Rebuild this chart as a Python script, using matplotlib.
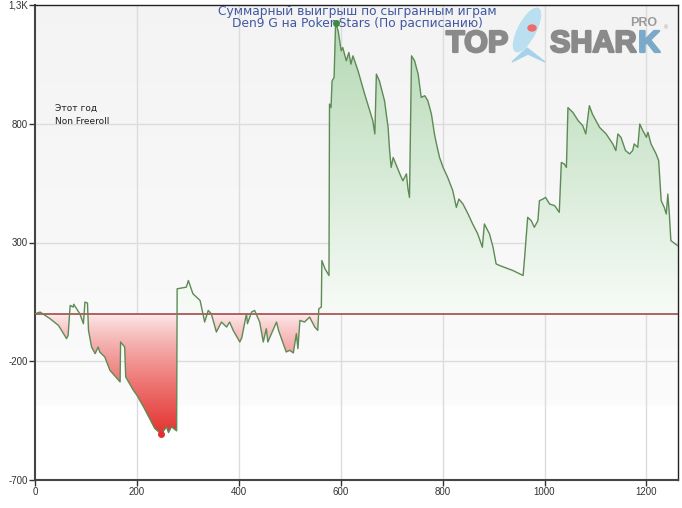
import numpy as np
import matplotlib
matplotlib.use("Agg")
import matplotlib.pyplot as plt
import matplotlib.patheffects as pe
from matplotlib.colors import to_rgb
from matplotlib.patches import Ellipse, Circle, Polygon

plt.rcParams['font.family'] = ['Liberation Sans', 'DejaVu Sans']

# ---- data: game number / cumulative winnings ----
games = [0, 10, 29, 46, 62, 65, 69, 75, 76, 88, 95, 98, 103, 105, 111, 118, 124, 127,
         137, 147, 167, 168, 176, 178, 193, 200, 213, 235, 248, 258, 262, 268, 278,
         279, 297, 301, 310, 324, 333, 340, 346, 356, 366, 376, 382, 389, 402, 406,
         415, 417, 425, 431, 441, 448, 454, 457, 474, 478, 493, 500, 507, 513, 516,
         520, 529, 539, 549, 555, 557, 562, 563, 569, 577, 578, 581, 583, 587, 590,
         595, 601, 604, 611, 616, 620, 624, 634, 647, 657, 663, 667, 670, 676, 686,
         693, 696, 699, 703, 716, 722, 729, 732, 735, 739, 745, 752, 758, 765, 771,
         778, 784, 788, 794, 801, 810, 820, 827, 832, 840, 850, 859, 869, 878, 882,
         892, 899, 905, 912, 938, 958, 961, 967, 974, 980, 987, 990, 997, 1002, 1010,
         1020, 1029, 1033, 1039, 1043, 1046, 1056, 1066, 1075, 1081, 1088, 1094, 1108,
         1121, 1134, 1140, 1144, 1150, 1159, 1167, 1173, 1176, 1183, 1187, 1193, 1200,
         1203, 1209, 1219, 1224, 1229, 1235, 1239, 1242, 1245, 1248, 1261]
winnings = [0, 7, -20, -49, -105, -91, 35, 28, 40, 0, -42, 49, 45, -70, -140, -168, -140, -161,
            -182, -238, -287, -119, -140, -266, -322, -343, -392, -483, -507, -476, -500, -476, -493,
            105, 112, 140, 84, 56, -35, 14, 0, -77, -35, -56, -35, -70, -119, -100,
            0, -42, 7, 14, -35, -119, -63, -119, -35, -70, -161, -154, -165, -84, -147,
            -28, -35, -14, -56, -70, 21, 28, 224, 190, 161, 883, 868, 980, 995, 1226,
            1191, 1107, 1121, 1065, 1100, 1051, 1086, 1023, 925, 855, 813, 757, 1009, 980, 897,
            785, 687, 616, 658, 589, 560, 589, 526, 490, 1086, 1065, 1009, 911, 918, 897,
            841, 757, 715, 658, 616, 574, 518, 448, 483, 462, 420, 378, 336, 280, 378,
            336, 280, 210, 203, 182, 161, 238, 406, 392, 364, 392, 476, 483, 490, 462,
            455, 427, 637, 630, 616, 868, 847, 813, 792, 757, 876, 841, 785,
            757, 715, 687, 757, 743, 687, 673, 687, 715, 701, 799, 771, 743,
            764, 715, 673, 645, 476, 448, 420, 504, 420, 308, 287]

y_ticks = [1300, 800, 300, -200, -700]
y_tick_labels = ["1,3K", "800", "300", "-200", "-700"]
x_ticks = [0, 200, 400, 600, 800, 1000, 1200]

x = np.array(games)
y = np.array(winnings)
x_max = 1262

W, H = 682, 508
fig = plt.figure(figsize=(W / 100, H / 100), dpi=100)
ax = fig.add_axes([35/W, 28/H, 643/W, 475/H])
ax.set_xlim(0, x_max)
ax.set_ylim(-700, 1300)

# background: light grey fading to white
bg = np.linspace(0, 1, 300)
bg_col = np.ones((300, 1, 3))
shade = np.clip((bg - 0.15) / 0.85, 0, 1)
for i in range(3):
    bg_col[:, 0, i] = np.where(bg < 0.155, 1.0, 0.985 - 0.03 * shade)
ax.imshow(bg_col, extent=[0, x_max, -700, 1300], origin='lower', aspect='auto', zorder=0)

# grid
for gx in x_ticks[1:]:
    ax.axvline(gx, color='#dcdcdc', lw=1, zorder=1)
for gy in [800, 300, -200]:
    ax.axhline(gy, color='#dcdcdc', lw=1, zorder=1)

# gradient fill between line and zero (green above, red below)
poly = ax.fill_between(x, y, 0, color='none', lw=0, zorder=2)
yy = np.linspace(-700, 1300, 500)
img = np.ones((500, 1, 3))
green = np.array(to_rgb('#b3d8b3'))
red = np.array(to_rgb('#e53935'))
pink0 = np.array(to_rgb('#fdeeee'))
for k, v in enumerate(yy):
    if v >= 0:
        t = min(v / 1250, 1)
        img[k, 0] = (1 - t) * np.array([0.97, 0.985, 0.97]) + t * green
    else:
        t = min(-v / 490, 1) ** 0.8
        img[k, 0] = (1 - t) * pink0 + t * red
im = ax.imshow(img, extent=[0, x_max, -700, 1300], origin='lower', aspect='auto', zorder=2)
im.set_clip_path(poly.get_paths()[0], transform=ax.transData)

ax.axhline(0, color='#a0393c', lw=1.1, zorder=3)
ax.plot(x, y, color='#5e8a55', lw=1.0, zorder=4)
ax.plot([590], [1226], 'o', color='#3c8c3c', ms=4, zorder=5)
ax.plot([248], [-507], 'o', color='#e03030', ms=4, zorder=5)

# axes styling
ax.set_yticks(y_ticks)
ax.set_yticklabels(y_tick_labels)
ax.set_xticks(x_ticks)
ax.tick_params(axis='both', labelsize=7, colors='#333333', length=4, width=1, pad=1)
for side in ['left', 'bottom']:
    ax.spines[side].set_color('#444444')
    ax.spines[side].set_linewidth(1.5)
for side in ['top', 'right']:
    ax.spines[side].set_color('#222222')
    ax.spines[side].set_linewidth(1.0)
ax.set_zorder(1)

# titles and notes
fig.text(357/W, 1 - 11/H, "Суммарный выигрыш по сыгранным играм", ha='center', va='center',
         fontsize=8.8, color='#4057a2', family='DejaVu Sans', zorder=10)
fig.text(357/W, 1 - 24/H, "Den9 G на Poker Stars (По расписанию)", ha='center', va='center',
         fontsize=8.8, color='#4057a2', family='DejaVu Sans', zorder=10)
fig.text(55/W, 1 - 108/H, "Этот год", fontsize=6.5, color='#222222', va='center',
         family='DejaVu Sans', zorder=10)
fig.text(55/W, 1 - 121/H, "Non Freeroll", fontsize=6.5, color='#222222', va='center',
         family='DejaVu Sans', zorder=10)

# logo: shark mascot (rough) and letters
fig.patches.append(Ellipse((527/W, 1 - 30/H), 18/W, 46/H, angle=-20, color='#b9dff0',
                           transform=fig.transFigure, zorder=9))
fig.patches.append(Polygon([(512/W, 1 - 62/H), (527/W, 1 - 48/H), (545/W, 1 - 62/H),
                            (528/W, 1 - 54/H)], closed=True, color='#a6d3ea',
                           transform=fig.transFigure, zorder=9))
fig.patches.append(Circle((532/W, 1 - 28/H), 4/W, color='#f06a6a',
                          transform=fig.transFigure, zorder=9))
heavy_grey = [pe.withStroke(linewidth=1.6, foreground='#8a8a8a')]
heavy_blue = [pe.withStroke(linewidth=1.6, foreground='#7aa9c9')]
fig.text(446/W, 1 - 44/H, "TOP", fontsize=22, fontweight='bold', color='#8a8a8a',
         ha='left', va='center', zorder=10, path_effects=heavy_grey)
shar = fig.text(550/W, 1 - 44/H, "SHAR", fontsize=22, fontweight='bold', color='#8a8a8a',
                ha='left', va='center', zorder=10, path_effects=heavy_grey)
fig.canvas.draw()
bb = shar.get_window_extent()
fig.text(bb.x1 / W + 2/W, 1 - 44/H, "K", fontsize=22, fontweight='bold', color='#7aa9c9',
         ha='left', va='center', zorder=10, path_effects=heavy_blue)
fig.text(630/W, 1 - 23/H, "PRO", fontsize=9, fontweight='bold', color='#9a9a9a',
         ha='left', va='center', zorder=10)
fig.text(664/W, 1 - 28/H, "®", fontsize=4, color='#9a9a9a',
         ha='left', va='center', zorder=10)

fig.savefig("out.png", dpi=100)
